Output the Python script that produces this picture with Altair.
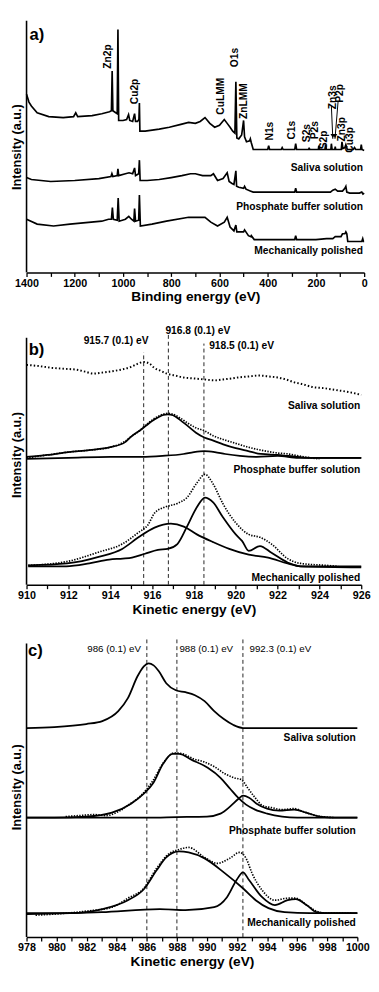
import altair as alt
import pandas as pd

FONT = "Liberation Sans"

# ---------------- Panel a: survey spectra (binding energy, eV) ----------------
a_ev_saliva = [1400,1390,1380,1356,1308,1248,1205,1196,1188,1128,1088,1056,1048,1045,1042,1030,1024,1021,1018,1000,
               985,977,972,960,952,948,940,934,932,930,908,850,808,760,728,700,680,660,640,620,
               600,580,568,556,545,536,532,528,520,508,500,496,488,475,472,468,460,400,396,392,
               344,340,336,288,284,280,230,228,226,190,188,185,162,160,157,138,136,133,122,120,
               118,95,92,88,80,76,70,45,40,35,15,12,9,0]
a_int_saliva = [184,176,172,165,161,160,161,165,161,162,164,166,167,208,167,165,164,251,157,157,
                158,163,157,156,164,156,156,158,175,146,146,148,150,153,155,154,156,160,154,150,
                152,158,154,150,146,144,197,139,138,142,157,140,135,136,138,134,127,127,131,127,
                127,129,127,127,133,127,127,129,127,127,131,127,127,132,127,127,133,127,127,130,
                127,127,135,128,129,132,127,127,129,127,127,132,127,126]

a_ev_pbs = [1400,1380,1300,1200,1100,1050,1046,1042,1024,1021,1018,990,975,960,952,948,935,932,929,900,
            850,800,756,720,700,670,648,636,625,608,585,568,560,548,540,532,529,520,500,496,
            490,470,460,300,288,284,280,200,140,130,120,110,90,80,76,72,60,20,10,5,0]
a_int_pbs = [98,96,94,95,97,99,102,99,100,107,100,102,103,102,108,100,102,116,95,95,
             96,98,100,102,102,100,100,100,102,95,97,103,94,92,91,105,89,88,87,89,
             86,84,83,83,83,87,83,83,83,85,86,84,84,87,89,83,82,82,83,81,82]

a_ev_mp = [1400,1356,1288,1220,1088,1060,1048,1044,1040,1024,1020,1016,990,976,965,955,952,948,935,932,
           928,880,820,728,660,636,608,580,568,556,540,532,528,510,500,496,480,470,468,456,
           300,288,284,280,200,156,130,120,100,96,90,80,76,72,68,20,10,6,3,0]
a_int_mp = [55,50,48,50,53,55,55,67,55,54,77,53,55,58,55,53,66,53,54,80,
            48,50,53,57,57,52,48,52,57,47,43,49,42,42,42,44,38,37,38,34,
            34,34,38,34,34,35,35,37,37,37,40,40,42,40,32,32,32,35,32,32]

a_peak_labels = ["Zn2p","Cu2p","CuLMM","O1s","ZnLMM","N1s","C1s","S2s","P2s","S2p","Zn3s","P2p","Zn3p","Cu3p"]
a_peak_ev = [1060,948,592,536,500,392,300,236,204,168,128,100,92,60]
a_peak_y = [223,187,182,222,177,146,147,144,147,137,181,185,148,137]

a_arrow_ev0 = [136,108]
a_arrow_y0 = [172,177]
a_arrow_ev1 = [130,121]
a_arrow_y1 = [138,138]

sample_names = ["Saliva solution","Phosphate buffer solution","Mechanically polished"]
a_sample_y = [108,68,22]
a_ticks = [0,100,200,300,400,500,600,700,800,900,1000,1100,1200,1300,1400]

# ---------------- Panel b: Cu LMM region (kinetic energy, eV) ----------------
b_ev_saliva = [910.0,910.5,911.2,911.8,912.4,912.8,913.2,913.6,913.95,914.5,915.0,915.3,915.6,915.9,916.1,916.4,916.7,917.1,917.5,918.0,
               918.5,919.0,919.4,919.8,920.1,920.6,921.1,921.6,922.0,922.4,922.8,923.2,923.7,924.2,924.8,925.4,926.0]
b_int_saliva = [227,226,224,223,222,220,218,219,220,222,225,228,230,228,224,221,218,216,214,213,
                212,211,212,213,214,215,216,215,214,212,209,207,204,203,201,199,196]

b_ev_pbs_fit = [910.0,911.0,912.0,913.0,914.0,914.7,915.0,915.4,915.7,916.0,916.3,916.55,916.75,917.0,917.35,917.7,918.1,918.5,918.9,919.4,920.0,
                920.6,921.2,922.0,922.5,923.6,926.0]
b_int_pbs_fit = [132,134,137,139,142,147,153,159,164,169,173,175.5,176,175,170,164,157,152,149,145,141,
                 138,135,134,133,131,131]
b_ev_pbs_data = [910.0,911.0,912.0,913.0,914.0,914.7,915.0,915.4,915.7,916.0,916.3,916.75,917.0,917.35,917.7,918.1,918.5,918.9,919.4,920.0,
                 920.6,921.2,922.0,922.5,923.0,923.6,924.0]
b_int_pbs_data = [131,134,137,139,142,148,153,159,165,170,174,177,176,172,167,162,159,154,150,146,
                  142,139,136,135,133,131,130]
b_ev_pbs_comp = [910,912,914,915.5,916.5,917.5,918.0,918.5,919.0,919.5,920.2,921.0,922.0,923.0,926]
b_int_pbs_comp = [130,131,132,132,133,135,137,138,137,135,133,132,133,131,131]

b_ev_mp_a = [910.08,911.9,913.0,913.95,914.6,915.04,915.66,916.28,916.74,917.21,917.67,918.14,918.53,918.92,919.38,920.0,
             920.31,920.62,921.16,921.71,922.48,923.1,926.0]
b_int_mp_a = [19,19,22,26,27,28,32,36,37,42,60,80,90,85,70,52,45,35,40,33,23,19,19]
b_ev_mp_b = [910.08,911.94,913.49,914.57,915.35,916.12,916.9,917.52,918.14,918.92,919.69,920.62,921.55,922.48,923.1,926.0]
b_int_mp_b = [20,22,29,37,49,59,63,60,52,44,37,31,28,22,19,18]
b_ev_mp_data = [910.08,911.94,913.49,914.57,915.35,915.81,916.12,916.59,917.21,917.67,918.14,918.53,918.92,919.38,920.0,
                920.62,921.16,921.71,922.48,923.1,924.33,924.9]
b_int_mp_data = [20,24,34,42,54,62,74,80,84,90,105,114,104,84,64,52,49,42,27,22,20,19]

b_sample_y = [184,118,7]
b_dash_ev = [915.6,916.78,918.48]
b_dash_top = [240,260,249]
b_dash_text = ["915.7 (0.1) eV","916.8 (0.1) eV","918.5 (0.1) eV"]
b_dash_text_ev = [914.28,918.19,920.28]
b_dash_text_y = [252,262,246]
b_ticks = [910,911,912,913,914,915,916,917,918,919,920,921,922,923,924,925,926]

# ---------------- Panel c: Zn LMM region (kinetic energy, eV) ----------------
c_ev_saliva = [978.0,979.85,981.97,983.04,984.1,984.74,985.38,985.8,986.12,986.45,986.8,987.29,987.93,988.57,989.2,989.84,990.48,991.12,991.76,992.39,993.67,1000.0]
c_int_saliva = [210,211,214,217,227,240,262,272,275,273,267,255,248,246,243,237,227,219,213,210,210,210]

c_ev_pbs_fit = [978.0,979.85,981.97,983.68,984.95,985.8,986.44,987.08,987.71,988.14,988.99,990.05,990.9,991.54,992.07,992.6,993.2,994.0,995.0,996.0,1000.0]
c_int_pbs_fit = [120,120,121,125,134,144,155,174,184,184,178,170,160,149,140,133,128,124,121,120,120]
c_ev_pbs_comp = [978,986,988,990,990.9,991.6,992.1,992.4,992.8,993.3,994.0,994.8,995.8,996.6,997.5,998.5,1000]
c_int_pbs_comp = [120,120,120.5,121,124,132,139,142,140,134,129,127,128,125,121,120,120]
c_ev_pbs_data = [980.6,981.5,982.5,983.3,984.1,984.9,985.6,986.4,987.1,987.8,988.4,989.1,989.8,990.5,991.2,991.8,992.3,992.7,993.2,993.7,
                 994.3,995.0,995.8,996.4,997.0,997.6,998.5]
c_int_pbs_data = [121,122,123,122,126,134,142,157,175,185,184,179,176,171,164,160,158,150,140,132,
                  130,128,129,126,123,121,120]

c_ev_mp_fit = [978.0,980.9,983.04,984.74,985.8,986.65,987.29,988.14,988.78,989.84,991.12,992.39,993.24,994.09,995.16,996.86,1000.0]
c_int_mp_fit = [24,24,28,37,48,67,80,86,85,79,65,49,37,29,25,24,24]
c_ev_mp_comp = [978.0,983.0,986.86,988.57,990.48,991.33,991.96,992.39,992.81,993.67,994.52,995.37,995.9,996.64,997.28,997.9,1000.0]
c_int_mp_comp = [23,25,28,27,30,40,57,65,57,40,32,37,38,32,25,24,24]
c_ev_mp_data = [978.6,979.85,981.97,983.68,984.74,985.8,986.65,987.5,988.14,988.78,989.84,990.7,991.5,992.17,992.6,993.0,993.67,994.52,995.37,995.9,
                996.64,997.28,997.9,999.6]
c_int_mp_data = [22,23,26,30,39,49,69,84,88,90,80,74,79,85,79,64,47,37,39,39,32,26,24,24]

c_sample_y = [200,106,14]
c_dash_ev = [986.0,988.0,992.39]
c_dash_top = [299,299,299]
c_dash_text = ["986 (0.1) eV","988 (0.1) eV","992.3 (0.1) eV"]
c_dash_text_ev = [983.82,989.95,994.88]
c_dash_text_y = [289,289,289]
c_ticks = list(range(978, 1001))


def series_df(pairs):
    frames = []
    for i, (xs, ys) in enumerate(pairs):
        frames.append(pd.DataFrame({"x": xs, "y": ys, "s": i}))
    return pd.concat(frames, ignore_index=True)


def make_panel(cfg):
    xsc = alt.Scale(domain=cfg["xdom"], reverse=cfg["rev"], nice=False, zero=False)
    ysc = alt.Scale(domain=cfg["ydom"], nice=False, zero=False)
    xax = alt.Axis(values=cfg["ticks"], labelExpr="datum.value % " + str(cfg["lstep"]) + " == 0 ? datum.label : ''",
                   format="d", title=cfg["xtitle"], labelFlush=False, grid=False)
    yax = alt.Axis(title="Intensity (a.u.)", domain=False, ticks=False, labels=False, grid=False, minExtent=0)
    interp = cfg.get("interp", "linear")

    def X():
        return alt.X("x:Q", scale=xsc, axis=xax)

    def Y():
        return alt.Y("y:Q", scale=ysc, axis=yax)

    layers = []
    # y-axis line
    yline = pd.DataFrame({"x": [cfg["xleft"]], "y": [0], "y2": [cfg["ytop"]]})
    layers.append(alt.Chart(yline).mark_rule(color="black", strokeWidth=1.6).encode(x=X(), y=Y(), y2="y2:Q"))

    if cfg.get("dash_ev"):
        dd = pd.DataFrame({"x": cfg["dash_ev"], "y": [0] * len(cfg["dash_ev"]), "y2": cfg["dash_top"]})
        layers.append(alt.Chart(dd).mark_rule(color="#222", strokeWidth=1, strokeDash=[4, 3]).encode(
            x=X(), y=Y(), y2="y2:Q"))
        dt = pd.DataFrame({"x": cfg["dash_text_ev"], "y": cfg["dash_text_y"], "t": cfg["dash_text"]})
        layers.append(alt.Chart(dt).mark_text(font=FONT, fontWeight=cfg["dash_weight"], fontSize=cfg["dash_size"],
                                               color="black", align="center", baseline="middle").encode(
            x=X(), y=Y(), text="t:N"))

    if cfg.get("solid"):
        layers.append(alt.Chart(series_df(cfg["solid"])).mark_line(
            color="black", strokeWidth=cfg.get("sw", 1.8), interpolate=interp).encode(
            x=X(), y=Y(), detail="s:N"))
    if cfg.get("dotted"):
        layers.append(alt.Chart(series_df(cfg["dotted"])).mark_line(
            color="black", strokeWidth=1.7, strokeDash=[1.4, 1.4], interpolate=interp).encode(
            x=X(), y=Y(), detail="s:N"))
    if cfg.get("dotted_sparse"):
        layers.append(alt.Chart(series_df(cfg["dotted_sparse"])).mark_line(
            color="black", strokeWidth=2, strokeDash=[1.5, 2.2], interpolate=interp).encode(
            x=X(), y=Y(), detail="s:N"))

    if cfg.get("peaks"):
        pk = pd.DataFrame({"x": cfg["peaks"][1], "y": cfg["peaks"][2], "t": cfg["peaks"][0]})
        layers.append(alt.Chart(pk).mark_text(font=FONT, fontWeight="bold", fontSize=10.5, angle=270,
                                               color="black", align="center", baseline="middle").encode(
            x=X(), y=Y(), text="t:N"))
    if cfg.get("arrows"):
        ar = pd.DataFrame({"x": cfg["arrows"][0], "y": cfg["arrows"][1],
                           "x2": cfg["arrows"][2], "y2": cfg["arrows"][3]})
        layers.append(alt.Chart(ar).mark_rule(color="black", strokeWidth=1).encode(
            x=X(), y=Y(), x2="x2:Q", y2="y2:Q"))
        ah = pd.DataFrame({"x": cfg["arrows"][2], "y": [v + 3 for v in cfg["arrows"][3]]})
        layers.append(alt.Chart(ah).mark_point(shape="triangle-down", filled=True, size=22, color="black",
                                                opacity=1).encode(x=X(), y=Y()))

    st = pd.DataFrame({"x": [cfg["sample_x"]] * 3, "y": cfg["sample_y"], "t": sample_names})
    layers.append(alt.Chart(st).mark_text(font=FONT, fontWeight="bold", fontSize=10.5, color="black",
                                           align="right", baseline="middle").encode(x=X(), y=Y(), text="t:N"))

    lt = pd.DataFrame({"x": [cfg["letter_x"]], "y": [cfg["letter_y"]], "t": [cfg["letter"]]})
    layers.append(alt.Chart(lt).mark_text(font=FONT, fontWeight="bold", fontSize=17, color="black",
                                           align="left", baseline="middle").encode(x=X(), y=Y(), text="t:N"))

    return alt.layer(*layers).properties(width=cfg["w"], height=cfg["h"])


pa = make_panel(dict(
    xdom=[0, 1400], rev=True, ydom=[0, 260], ticks=a_ticks, lstep=200, xtitle="Binding energy (eV)",
    xleft=1400, ytop=260,
    solid=[(a_ev_saliva, a_int_saliva), (a_ev_pbs, a_int_pbs), (a_ev_mp, a_int_mp)], sw=1.7,
    peaks=(a_peak_labels, a_peak_ev, a_peak_y),
    arrows=(a_arrow_ev0, a_arrow_y0, a_arrow_ev1, a_arrow_y1),
    sample_x=5, sample_y=a_sample_y, letter="a)", letter_x=1388, letter_y=245, w=346, h=258))

pb = make_panel(dict(
    xdom=[910, 926], rev=False, ydom=[0, 269], ticks=b_ticks, lstep=2, xtitle="Kinetic energy (eV)",
    xleft=910, ytop=255, interp="monotone",
    dash_ev=b_dash_ev, dash_top=b_dash_top, dash_text=b_dash_text, dash_text_ev=b_dash_text_ev,
    dash_text_y=b_dash_text_y, dash_weight="bold", dash_size=10.5,
    solid=[(b_ev_pbs_fit, b_int_pbs_fit), (b_ev_pbs_comp, b_int_pbs_comp),
           (b_ev_mp_a, b_int_mp_a), (b_ev_mp_b, b_int_mp_b)],
    dotted=[(b_ev_pbs_data, b_int_pbs_data), (b_ev_mp_data, b_int_mp_data)],
    dotted_sparse=[(b_ev_saliva, b_int_saliva)],
    sample_x=925.95, sample_y=b_sample_y, letter="b)", letter_x=910.1, letter_y=242, w=343, h=267))

pc = make_panel(dict(
    xdom=[978, 1000], rev=False, ydom=[0, 302], ticks=c_ticks, lstep=2, xtitle="Kinetic energy (eV)",
    xleft=978, ytop=295, interp="monotone",
    dash_ev=c_dash_ev, dash_top=c_dash_top, dash_text=c_dash_text, dash_text_ev=c_dash_text_ev,
    dash_text_y=c_dash_text_y, dash_weight="normal", dash_size=10,
    solid=[(c_ev_saliva, c_int_saliva), (c_ev_pbs_fit, c_int_pbs_fit), (c_ev_pbs_comp, c_int_pbs_comp),
           (c_ev_mp_fit, c_int_mp_fit), (c_ev_mp_comp, c_int_mp_comp)],
    dotted=[(c_ev_pbs_data, c_int_pbs_data), (c_ev_mp_data, c_int_mp_data)],
    sample_x=999.9, sample_y=c_sample_y, letter="c)", letter_x=978.1, letter_y=287, w=339, h=308))

chart = alt.vconcat(pa, pb, pc, spacing=21).properties(
    padding={"left": 3, "top": 0, "right": 0, "bottom": 0}
).configure_view(stroke=None).configure_axis(
    domainColor="black", domainWidth=1.6, tickColor="black", tickWidth=1.3, tickSize=4,
    labelFont=FONT, labelFontWeight="bold", labelFontSize=11, labelColor="black", labelPadding=1,
    titleFont=FONT, titleFontWeight="bold", titleFontSize=14, titleColor="black", titlePadding=2
).configure_axisY(titleFontSize=13, titlePadding=3)

chart.save("out.html", embed_options={"renderer": "svg", "actions": False})
